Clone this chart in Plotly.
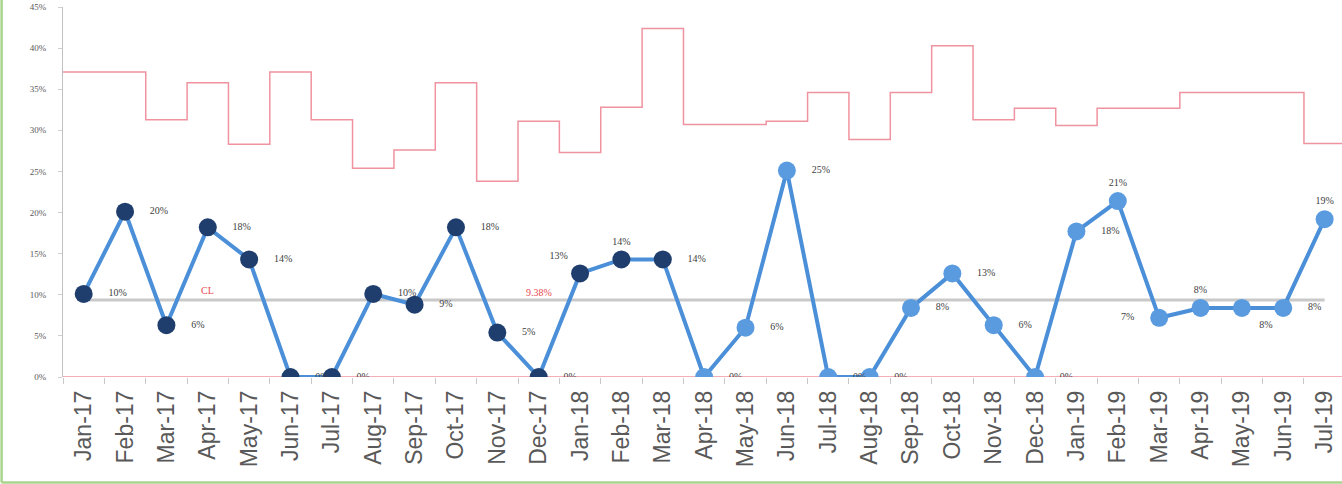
import plotly.graph_objects as go

# Monthly proportion chart (p-chart) with centre line and stepped control limits
months = [
    "Jan-17", "Feb-17", "Mar-17", "Apr-17", "May-17", "Jun-17", "Jul-17", "Aug-17",
    "Sep-17", "Oct-17", "Nov-17", "Dec-17", "Jan-18", "Feb-18", "Mar-18", "Apr-18",
    "May-18", "Jun-18", "Jul-18", "Aug-18", "Sep-18", "Oct-18", "Nov-18", "Dec-18",
    "Jan-19", "Feb-19", "Mar-19", "Apr-19", "May-19", "Jun-19", "Jul-19",
]
rate = [
    0.101, 0.201, 0.063, 0.182, 0.143, 0.000, 0.000, 0.101, 0.088, 0.182, 0.054, 0.000,
    0.126, 0.143, 0.143, 0.000, 0.060, 0.251, 0.000, 0.000, 0.084, 0.126, 0.063, 0.000,
    0.177, 0.214, 0.072, 0.084, 0.084, 0.084, 0.192,
]
ucl = [
    0.371, 0.371, 0.313, 0.358, 0.283, 0.371, 0.313, 0.254, 0.276, 0.358, 0.238, 0.311,
    0.273, 0.328, 0.424, 0.307, 0.307, 0.311, 0.346, 0.289, 0.346, 0.403, 0.313, 0.327,
    0.306, 0.327, 0.327, 0.346, 0.346, 0.346, 0.284,
]
lcl = [
    0.0, 0.0, 0.0, 0.0, 0.0, 0.0, 0.0, 0.0, 0.0, 0.0, 0.0, 0.0,
    0.0, 0.0, 0.0, 0.0, 0.0, 0.0, 0.0, 0.0, 0.0, 0.0, 0.0, 0.0,
    0.0, 0.0, 0.0, 0.0, 0.0, 0.0, 0.0,
]
center_line = 0.0938
y_ticks = [0.0, 0.05, 0.10, 0.15, 0.20, 0.25, 0.30, 0.35, 0.40, 0.45]

# styling
LIMIT_RED = "#f093a0"
CL_GREY = "#c9c9c9"
LINE_BLUE = "#4a8fd8"
DARK_MARK = "#1f3e6d"
LIGHT_MARK = "#5a9be0"
AXIS_GREY = "#595959"
first_light = months.index("Apr-18")

label_pos = {
    "Jan-18": "top left",
    "Feb-18": "top center",
    "Feb-19": "top center",
    "Mar-19": "middle left",
    "Apr-19": "top center",
    "May-19": "bottom right",
    "Jul-19": "top center",
}


def padded(value, pos):
    """Percent label with spacing that pushes it away from the marker."""
    s = f"{value:.0%}"
    if pos == "middle right":
        return "     " + s
    if pos == "bottom right":
        return "  " + s
    if pos == "middle left":
        return s + "     "
    return s


n = len(months)
idx = list(range(n))
edges = [i - 0.5 for i in idx] + [n - 0.5]
positions = [label_pos.get(m, "middle right") for m in months]

fig = go.Figure()

# upper control limit, one step per month
fig.add_trace(go.Scatter(
    x=edges, y=ucl + [ucl[-1]], mode="lines", line_shape="hv",
    line=dict(color=LIMIT_RED, width=1.5), hoverinfo="skip", showlegend=False,
))
# lower control limit
fig.add_trace(go.Scatter(
    x=edges, y=lcl + [lcl[-1]], mode="lines", line_shape="hv",
    line=dict(color=LIMIT_RED, width=1.5), hoverinfo="skip", showlegend=False,
))
# centre line
fig.add_trace(go.Scatter(
    x=[idx[0], idx[-1]], y=[center_line, center_line], mode="lines",
    line=dict(color=CL_GREY, width=3), hoverinfo="skip", showlegend=False,
))
# monthly rate
fig.add_trace(go.Scatter(
    x=idx, y=rate, mode="lines+markers+text",
    line=dict(color=LINE_BLUE, width=4),
    marker=dict(size=18, color=[DARK_MARK if i < first_light else LIGHT_MARK for i in idx]),
    text=[padded(v, p) for v, p in zip(rate, positions)],
    textposition=positions,
    textfont=dict(family="Liberation Serif, serif", size=10, color="#404040"),
    showlegend=False,
))

fig.add_annotation(
    x=3, y=center_line, text="CL", showarrow=False, yanchor="bottom", yshift=2,
    font=dict(family="Liberation Serif, serif", size=10, color="#e8474f"),
)
fig.add_annotation(
    x=11, y=center_line, text=f"{center_line:.2%}", showarrow=False, yanchor="bottom", yshift=0,
    font=dict(family="Liberation Serif, serif", size=10, color="#e8474f"),
)

# chart-area border (left and bottom edges)
fig.add_shape(type="line", xref="paper", yref="paper", x0=-0.048, x1=-0.048, y0=-0.285, y1=1.1,
              line=dict(color="#a9d48c", width=2.5))
fig.add_shape(type="line", xref="paper", yref="paper", x0=-0.048, x1=1.05, y0=-0.285, y1=-0.285,
              line=dict(color="#a9d48c", width=2.5))

fig.update_layout(
    width=1342, height=484,
    margin=dict(l=63, r=0, t=7, b=107),
    paper_bgcolor="white", plot_bgcolor="white",
    xaxis=dict(
        range=[-0.5, 30.42], tickmode="array", tickvals=idx, ticktext=months,
        tickangle=-90, ticks="", showgrid=False, zeroline=False, showline=False,
        tickfont=dict(family="Liberation Sans, Arial, sans-serif", size=23, color=AXIS_GREY),
        ticklabelstandoff=8,
        minor=dict(tick0=-0.5, dtick=1, ticks="outside", ticklen=6, tickcolor="#c8c8c8", showgrid=False),
    ),
    yaxis=dict(
        range=[0, 0.45], tickmode="array", tickvals=y_ticks, tickformat=".0%",
        showgrid=False, zeroline=False, showline=True, linecolor="#c0c0c0", linewidth=1,
        ticks="outside", ticklen=4, tickcolor="#d0d0d0",
        tickfont=dict(family="Liberation Serif, serif", size=9, color=AXIS_GREY),
        ticklabelstandoff=10,
    ),
)

fig.write_html("out.html")
